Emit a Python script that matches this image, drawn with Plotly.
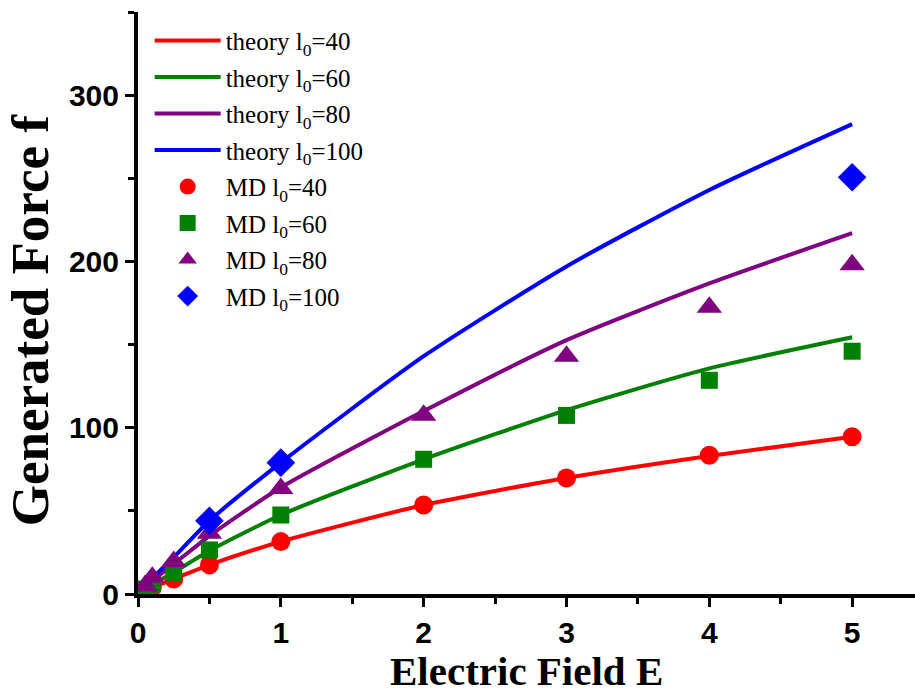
import plotly.graph_objects as go

# ---------------- data ----------------
E_theory = [0.1, 0.25, 0.5, 1, 2, 3, 4, 5]
theory_40 = [4.0, 9.0, 17.5, 31.5, 53.5, 69.8, 83.0, 94.6]
theory_60 = [6.0, 13.0, 26.0, 47.5, 81.0, 110.6, 135.7, 154.4]
theory_80 = [8.0, 18.0, 35.0, 64.0, 110.0, 152.7, 186.8, 217.0]
theory_100 = [9.6, 22.0, 44.0, 79.0, 143.0, 197.0, 243.0, 282.6]

E_md = [0.05, 0.1, 0.25, 0.5, 1, 2, 3, 4, 5]
md_40 = [2.0, 4.0, 9.0, 17.5, 31.5, 53.5, 69.8, 83.4, 94.6]
md_60 = [3.0, 6.0, 12.4, 26.5, 47.5, 81.0, 107.4, 128.5, 146.0]
md_80 = [5.0, 10.0, 19.5, 36.5, 63.5, 107.5, 143.0, 172.5, 198.0]
E_md_100 = [0.5, 1, 5]
md_100 = [44.0, 79.0, 250.6]

labels_l0 = ["40", "60", "80", "100"]
colors = ["#FF0000", "#008000", "#800080", "#0000FF"]
symbols = ["circle", "square", "triangle-up", "diamond"]
marker_sizes = [19, 17, 22, 22]

x_ticks = [0, 1, 2, 3, 4, 5]
y_ticks = [0, 100, 200, 300]

# ---------------- figure ----------------
fig = go.Figure()

theory = [theory_40, theory_60, theory_80, theory_100]
for i, ys in enumerate(theory):
    fig.add_trace(go.Scatter(
        x=E_theory, y=ys, mode="lines",
        line=dict(color=colors[i], width=4, shape="spline", smoothing=0.6),
        name=f"theory l<sub>0</sub>={labels_l0[i]}",
        legendgroup=f"t{i}", legendrank=i + 1,
    ))

md = [(E_md, md_40), (E_md, md_60), (E_md, md_80), (E_md_100, md_100)]
for i, (xs, ys) in enumerate(md):
    fig.add_trace(go.Scatter(
        x=xs, y=ys, mode="markers",
        marker=dict(color=colors[i], symbol=symbols[i], size=marker_sizes[i],
                    line=dict(width=0)),
        name=f"MD l<sub>0</sub>={labels_l0[i]}",
        legendgroup=f"m{i}", legendrank=i + 5,
    ))

tick_font = dict(family="Liberation Sans, Arial", size=30, color="black", weight="bold")
x_title_font = dict(family="Liberation Serif, Times New Roman", size=41, color="black", weight="bold")
y_title_font = dict(family="Liberation Serif, Times New Roman", size=53, color="black", weight="bold")

fig.update_layout(
    width=915, height=696,
    margin=dict(l=138, r=0, t=12, b=102),
    paper_bgcolor="white", plot_bgcolor="white",
    showlegend=True,
    legend=dict(
        x=0.015, y=0.99, xanchor="left", yanchor="top",
        font=dict(family="Liberation Serif, Times New Roman", size=25, color="black"),
        bgcolor="rgba(0,0,0,0)", tracegroupgap=1, itemwidth=66,
    ),
    xaxis=dict(
        range=[0, 5.44], tickvals=x_ticks, ticktext=[str(v) for v in x_ticks],
        showgrid=False, zeroline=False,
        showline=True, linecolor="black", linewidth=4,
        ticks="outside", ticklen=9, tickwidth=3, tickcolor="black",
        tickfont=tick_font,
        minor=dict(ticks="outside", dtick=0.5, ticklen=6, tickwidth=3, tickcolor="black", showgrid=False),
    ),
    yaxis=dict(
        range=[0, 350], tickvals=y_ticks, ticktext=[str(v) for v in y_ticks],
        showgrid=False, zeroline=False,
        showline=True, linecolor="black", linewidth=4,
        ticks="outside", ticklen=9, tickwidth=3, tickcolor="black",
        tickfont=tick_font,
        minor=dict(ticks="outside", dtick=50, ticklen=6, tickwidth=3, tickcolor="black", showgrid=False),
    ),
    annotations=[
        dict(
            text="Generated Force f", textangle=-90, showarrow=False,
            xref="paper", yref="paper", x=-0.138, y=0.47, xanchor="center", yanchor="middle",
            font=y_title_font,
        ),
        dict(
            text="Electric Field E", showarrow=False,
            xref="paper", yref="paper", x=0.5, y=-0.1753, xanchor="center", yanchor="bottom",
            font=x_title_font,
        ),
    ],
)

fig.write_html("out.html")
